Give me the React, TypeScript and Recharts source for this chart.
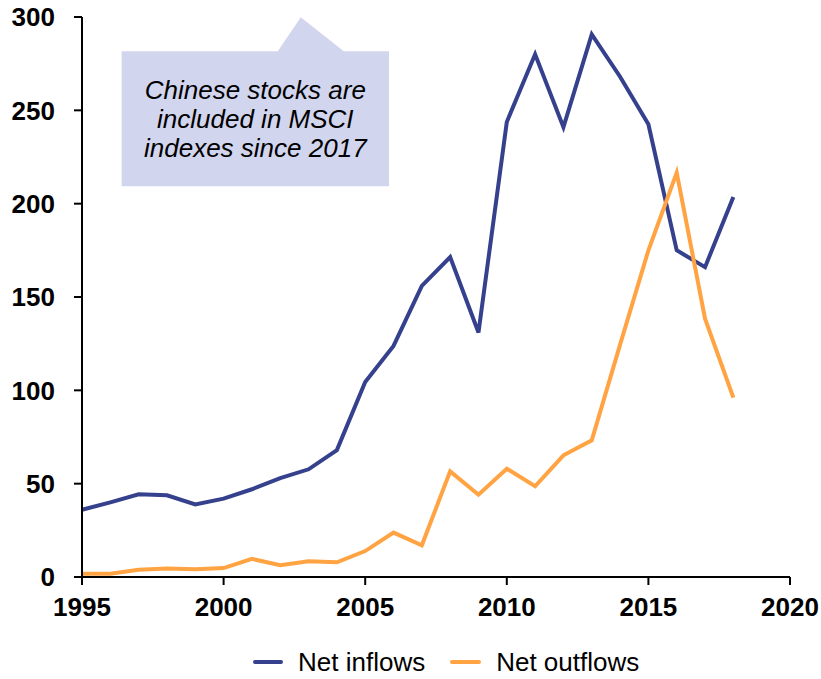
import React from "react";
import { LineChart, Line, XAxis, YAxis, Legend, ReferenceArea } from "recharts";

const years = [1995, 1996, 1997, 1998, 1999, 2000, 2001, 2002, 2003, 2004, 2005, 2006, 2007, 2008, 2009, 2010, 2011, 2012, 2013, 2014, 2015, 2016, 2017, 2018];
const netInflows = [36, 40, 44.3, 43.8, 38.9, 42, 47, 53, 57.7, 68, 104.5, 123.8, 156, 171.4, 131, 243.8, 280, 241, 290.7, 268, 242.5, 175, 166, 203.6];
const netOutflows = [1.8, 1.8, 3.9, 4.5, 4.1, 4.8, 9.7, 6.3, 8.4, 7.9, 13.9, 23.8, 17, 56.6, 44.1, 58, 48.6, 65.2, 73.2, 124.5, 175, 216.6, 138.4, 96.1];
const xTicks = [1995, 2000, 2005, 2010, 2015, 2020];
const yTicks = [0, 50, 100, 150, 200, 250, 300];
const calloutLines = ["Chinese stocks are", "included in MSCI", "indexes since 2017"];

const data = years.map((y, i) => ({ year: y, inflows: netInflows[i], outflows: netOutflows[i] }));

const BLUE = "#35418C";
const ORANGE = "#FFA343";
const BOX = "#D2D5EE";
const FONT = "'Liberation Sans', Arial, sans-serif";

const CalloutShape = (props: any) => {
  const { x, y, width, height } = props;
  const bx1 = x + width * 0.584;
  const bx2 = x + width * 0.831;
  const ax = x + width * 0.67;
  const ay = y - height * 0.252;
  const d = `M${x},${y} L${bx1},${y} L${ax},${ay} L${bx2},${y} L${x + width},${y} L${x + width},${y + height} L${x},${y + height} Z`;
  const cx = x + width / 2;
  return (
    <g>
      <path d={d} fill={BOX} stroke="none" />
      {calloutLines.map((t, i) => (
        <text
          key={i}
          x={cx}
          y={y + 48 + i * 28.8}
          textAnchor="middle"
          fontFamily={FONT}
          fontStyle="italic"
          fontSize={26}
          fill="#000"
        >
          {t}
        </text>
      ))}
    </g>
  );
};

const LegendContent = () => (
  <div style={{ height: 60, position: "relative", fontFamily: FONT, fontSize: 26 }}>
    <div style={{ position: "absolute", left: 253, top: 30, height: 26, display: "flex", alignItems: "center", lineHeight: "26px" }}>
      <span style={{ display: "inline-block", width: 30, height: 4, background: BLUE, borderRadius: 2, marginRight: 15 }} />
      <span style={{ marginRight: 25 }}>Net inflows</span>
      <span style={{ display: "inline-block", width: 31, height: 4, background: ORANGE, borderRadius: 2, marginRight: 15 }} />
      <span>Net outflows</span>
    </div>
  </div>
);

export default function App() {
  return (
    <div style={{ position: "absolute", left: 0, top: 0, width: 821, height: 679, background: "#fff" }}>
      <LineChart width={821} height={679} data={data} margin={{ top: 17, right: 31, left: 0, bottom: 0 }}>
        <XAxis
          dataKey="year"
          type="number"
          domain={[1995, 2020]}
          ticks={xTicks}
          height={42}
          stroke="#000"
          strokeWidth={2}
          tickSize={8}
          tickMargin={13}
          tick={{ fill: "#000", fontSize: 26, fontWeight: "bold", fontFamily: FONT }}
          tickLine={{ stroke: "#000", strokeWidth: 2 }}
        />
        <YAxis
          domain={[0, 300]}
          ticks={yTicks}
          width={82}
          stroke="#000"
          strokeWidth={2}
          tickSize={8}
          tickMargin={19}
          tick={{ fill: "#000", fontSize: 26, fontWeight: "bold", fontFamily: FONT }}
          tickLine={{ stroke: "#000", strokeWidth: 2 }}
        />
        <ReferenceArea
          x1={1996.4}
          x2={2005.84}
          y1={209.3}
          y2={281.6}
          shape={CalloutShape}
          ifOverflow="visible"
        />
        <Line type="linear" dataKey="inflows" name="Net inflows" stroke={BLUE} strokeWidth={4} dot={false} isAnimationActive={false} />
        <Line type="linear" dataKey="outflows" name="Net outflows" stroke={ORANGE} strokeWidth={4} dot={false} isAnimationActive={false} />
        <Legend verticalAlign="bottom" content={LegendContent} wrapperStyle={{ left: 0, width: 821 }} />
      </LineChart>
    </div>
  );
}
